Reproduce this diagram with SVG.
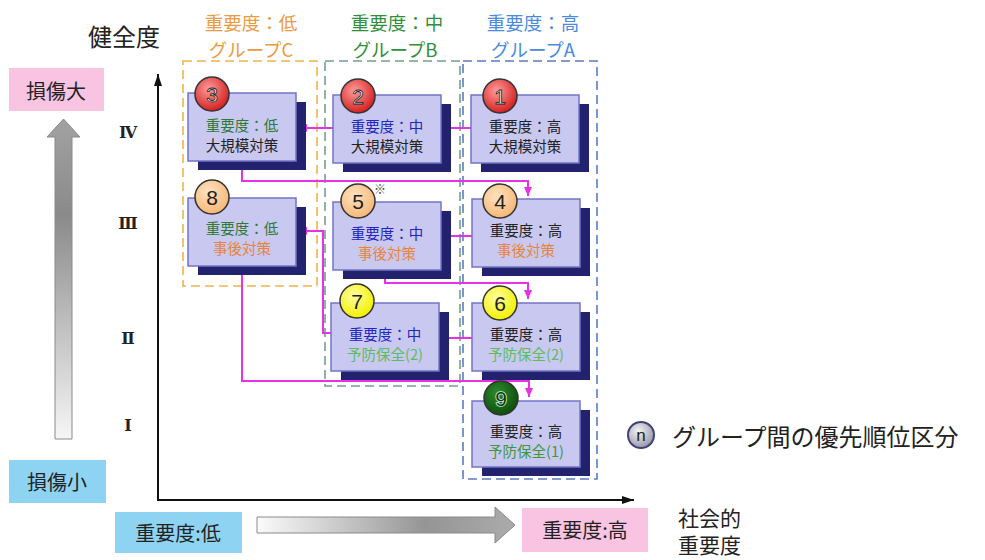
<svg xmlns="http://www.w3.org/2000/svg" width="985" height="560" viewBox="0 0 985 560">
<defs>
<style>
.jp{font-family:"Noto Sans CJK JP","Noto Sans",sans-serif;}
.hdr{font-size:18.5px;text-anchor:middle;}
.nt{font-size:14.5px;text-anchor:middle;}
.shadow{fill:#22226e;}
.front{fill:#c8c8f0;stroke:#7474c6;stroke-width:1.5;}
.num{font-family:"Liberation Sans",sans-serif;font-size:21px;text-anchor:middle;}
.circ{stroke:#333;stroke-width:1.5;}
.conn{fill:none;stroke:#e830e8;stroke-width:2;}
.grp{fill:none;stroke-width:1.6;stroke-dasharray:9 5;}
.roman{font-family:"DejaVu Serif","Liberation Serif",serif;font-weight:bold;font-size:16px;text-anchor:middle;fill:#222;}
.lbl{font-size:20px;text-anchor:middle;fill:#222;}
</style>
<marker id="ah" markerWidth="9" markerHeight="8" refX="9" refY="4" orient="auto" markerUnits="userSpaceOnUse">
<path d="M0,0 L9,4 L0,8 Z" fill="#e830e8"/>
</marker>
<marker id="axh" markerWidth="12" markerHeight="8" refX="12" refY="4" orient="auto" markerUnits="userSpaceOnUse">
<path d="M0,0 L12,4 L0,8 Z" fill="#111"/>
</marker>
<radialGradient id="gRed" cx="40%" cy="35%" r="65%">
<stop offset="0" stop-color="#ff9a9a"/><stop offset="1" stop-color="#d42222"/>
</radialGradient>
<radialGradient id="gOr" cx="40%" cy="35%" r="65%">
<stop offset="0" stop-color="#ffe2c0"/><stop offset="1" stop-color="#f5b878"/>
</radialGradient>
<radialGradient id="gYe" cx="40%" cy="35%" r="65%">
<stop offset="0" stop-color="#ffffa0"/><stop offset="1" stop-color="#f2f000"/>
</radialGradient>
<radialGradient id="gGr" cx="40%" cy="35%" r="65%">
<stop offset="0" stop-color="#2f8a2f"/><stop offset="1" stop-color="#0c500c"/>
</radialGradient>
<radialGradient id="gLeg" cx="40%" cy="35%" r="65%">
<stop offset="0" stop-color="#f4f4f4"/><stop offset="1" stop-color="#9a9aa8"/>
</radialGradient>
<linearGradient id="gUp" x1="0" y1="0" x2="0" y2="1">
<stop offset="0" stop-color="#a2a2a2"/><stop offset="0.3" stop-color="#8a8a8a"/><stop offset="1" stop-color="#f6f6f6"/>
</linearGradient>
<linearGradient id="gRight" x1="0" y1="0" x2="1" y2="0">
<stop offset="0" stop-color="#fbfbfb"/><stop offset="0.65" stop-color="#959595"/><stop offset="1" stop-color="#ababab"/>
</linearGradient>
</defs>
<rect width="985" height="560" fill="#fff"/>

<g id="axes">
<text class="jp" x="124" y="46" font-size="24" text-anchor="middle" fill="#222">健全度</text>
<line x1="158" y1="501" x2="158" y2="74" stroke="#111" stroke-width="2" marker-end="url(#axh)"/>
<line x1="157" y1="500" x2="634" y2="500" stroke="#111" stroke-width="2" marker-end="url(#axh)"/>
<text class="roman" x="128" y="138">Ⅳ</text>
<text class="roman" x="128" y="229">Ⅲ</text>
<text class="roman" x="128" y="344">Ⅱ</text>
<text class="roman" x="128" y="431">Ⅰ</text>
</g>

<g id="damage-scale">
<rect x="9" y="68" width="95" height="43" fill="#f8c4e2"/>
<text class="jp lbl" x="56" y="99" font-size="21">損傷大</text>
<polygon points="63.5,119 47,137 55,137 55,439 72,439 72,137 80,137" fill="url(#gUp)" stroke="#8a8a8a" stroke-width="1"/>
<rect x="9" y="460" width="97" height="43" fill="#8ed4f2"/>
<text class="jp lbl" x="57" y="490" font-size="21">損傷小</text>
</g>

<g id="importance-scale">
<rect x="115" y="512" width="127" height="41" fill="#8ed4f2"/>
<text class="jp lbl" x="178" y="541" font-size="21">重要度:低</text>
<polygon points="257,517 495,517 495,507 515,525 495,543 495,533 257,533" fill="url(#gRight)" stroke="#8a8a8a" stroke-width="1"/>
<rect x="522" y="508" width="126" height="44" fill="#f8c4e2"/>
<text class="jp lbl" x="585" y="538" font-size="21">重要度:高</text>
<text class="jp" font-size="21" fill="#222"><tspan x="678" y="526">社会的</tspan><tspan x="678" y="553">重要度</tspan></text>
</g>

<g id="group-C">
<rect class="grp" x="183" y="61" width="134" height="225" stroke="#f0b448"/>
<text class="jp hdr" x="251" y="30" fill="#eb9b3f">重要度：低</text>
<text class="jp hdr" x="251" y="57" fill="#eb9b3f">グループC</text>
</g>
<g id="group-B">
<rect class="grp" x="325" y="61" width="135" height="325" stroke="#74a08c"/>
<text class="jp hdr" x="397" y="30" fill="#2f8f3a">重要度：中</text>
<text class="jp hdr" x="395" y="57" fill="#2f8f3a">グループB</text>
</g>
<g id="group-A">
<rect class="grp" x="463" y="61" width="134" height="418" stroke="#5a7cc4"/>
<text class="jp hdr" x="533" y="30" fill="#4a8ae0">重要度：高</text>
<text class="jp hdr" x="533" y="57" fill="#4a8ae0">グループA</text>
</g>

<g id="connectors">
<line class="conn" x1="471" y1="128" x2="441" y2="128" marker-end="url(#ah)"/>
<line class="conn" x1="333" y1="128" x2="298" y2="128" marker-end="url(#ah)"/>
<path class="conn" d="M242,163 V181 H528 V196" marker-end="url(#ah)"/>
<line class="conn" x1="472" y1="236" x2="442" y2="236" marker-end="url(#ah)"/>
<path class="conn" d="M385,269 V283 H528 V299" marker-end="url(#ah)"/>
<line class="conn" x1="472" y1="338" x2="440" y2="338" marker-end="url(#ah)"/>
<path class="conn" d="M331,333 H323 V231 H298" marker-end="url(#ah)"/>
<path class="conn" d="M242,265 V381 H529 V397" marker-end="url(#ah)"/>
</g>

<g id="node-1">
<rect class="shadow" x="481" y="104" width="108" height="68"/>
<rect class="front" x="471" y="95" width="108" height="68"/>
<circle class="circ" cx="500" cy="96" r="17" fill="url(#gRed)"/>
<text class="num" x="500" y="103.5" fill="#fff" stroke="#222" stroke-width="0.8">1</text>
<text class="jp nt" x="525" y="132" fill="#222">重要度：高</text>
<text class="jp nt" x="525" y="152" fill="#222">大規模対策</text>
</g>
<g id="node-2">
<rect class="shadow" x="343" y="104" width="108" height="68"/>
<rect class="front" x="333" y="95" width="108" height="68"/>
<circle class="circ" cx="358" cy="96" r="17" fill="url(#gRed)"/>
<text class="num" x="358" y="103.5" fill="#fff" stroke="#222" stroke-width="0.8">2</text>
<text class="jp nt" x="387" y="132" fill="#2424c0">重要度：中</text>
<text class="jp nt" x="387" y="152" fill="#222">大規模対策</text>
</g>
<g id="node-3">
<rect class="shadow" x="198" y="102" width="108" height="68"/>
<rect class="front" x="188" y="93" width="108" height="68"/>
<circle class="circ" cx="212" cy="94" r="17" fill="url(#gRed)"/>
<text class="num" x="212" y="101.5" fill="#fff" stroke="#222" stroke-width="0.8">3</text>
<text class="jp nt" x="242" y="131" fill="#2a7a3a">重要度：低</text>
<text class="jp nt" x="242" y="151" fill="#222">大規模対策</text>
</g>
<g id="node-4">
<rect class="shadow" x="482" y="208" width="108" height="68"/>
<rect class="front" x="472" y="199" width="108" height="68"/>
<circle class="circ" cx="500" cy="201" r="17" fill="url(#gOr)"/>
<text class="num" x="500" y="208.5" fill="#222">4</text>
<text class="jp nt" x="526" y="236" fill="#222">重要度：高</text>
<text class="jp nt" x="526" y="256" fill="#e8843a">事後対策</text>
</g>
<g id="node-5">
<rect class="shadow" x="343" y="211" width="108" height="68"/>
<rect class="front" x="333" y="202" width="108" height="68"/>
<circle class="circ" cx="358" cy="201" r="17" fill="url(#gOr)"/>
<text class="num" x="358" y="208.5" fill="#222">5</text>
<text class="jp" x="380" y="194" font-size="12" text-anchor="middle" fill="#444">※</text>
<text class="jp nt" x="387" y="239" fill="#2424c0">重要度：中</text>
<text class="jp nt" x="387" y="259" fill="#e8843a">事後対策</text>
</g>
<g id="node-6">
<rect class="shadow" x="482" y="312" width="108" height="68"/>
<rect class="front" x="472" y="303" width="108" height="68"/>
<circle class="circ" cx="500" cy="303" r="17" fill="url(#gYe)"/>
<text class="num" x="500" y="310.5" fill="#222">6</text>
<text class="jp nt" x="526" y="340" fill="#222">重要度：高</text>
<text class="jp nt" x="526" y="360" fill="#5cbd5c">予防保全(2)</text>
</g>
<g id="node-7">
<rect class="shadow" x="341" y="312" width="108" height="68"/>
<rect class="front" x="331" y="303" width="108" height="68"/>
<circle class="circ" cx="357" cy="301" r="17" fill="url(#gYe)"/>
<text class="num" x="357" y="308.5" fill="#222">7</text>
<text class="jp nt" x="385" y="340" fill="#2424c0">重要度：中</text>
<text class="jp nt" x="385" y="360" fill="#5cbd5c">予防保全(2)</text>
</g>
<g id="node-8">
<rect class="shadow" x="198" y="207" width="108" height="68"/>
<rect class="front" x="188" y="198" width="108" height="68"/>
<circle class="circ" cx="212" cy="197" r="17" fill="url(#gOr)"/>
<text class="num" x="212" y="204.5" fill="#222">8</text>
<text class="jp nt" x="242" y="234" fill="#2a7a3a">重要度：低</text>
<text class="jp nt" x="242" y="254" fill="#e8843a">事後対策</text>
</g>
<g id="node-9">
<rect class="shadow" x="482" y="410" width="108" height="66"/>
<rect class="front" x="472" y="401" width="108" height="66"/>
<circle class="circ" cx="501" cy="398" r="17" fill="url(#gGr)"/>
<text class="num" x="501" y="405.5" fill="#0a3a0a" stroke="#dfeedf" stroke-width="1.6" paint-order="stroke">9</text>
<text class="jp nt" x="526" y="437" fill="#222">重要度：高</text>
<text class="jp nt" x="526" y="457" fill="#3a9a3a">予防保全(1)</text>
</g>

<g id="legend">
<circle cx="641" cy="435" r="13" fill="url(#gLeg)" stroke="#40407a" stroke-width="2"/>
<text x="641" y="441" font-family="Liberation Sans, sans-serif" font-size="17" text-anchor="middle" fill="#222">n</text>
<text class="jp" x="672" y="446" font-size="24" fill="#222">グループ間の優先順位区分</text>
</g>
</svg>
